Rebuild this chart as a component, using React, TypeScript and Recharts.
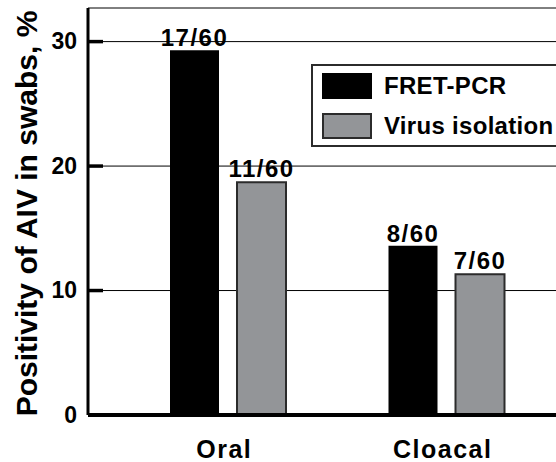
import React from "react";
import {
  BarChart,
  Bar,
  XAxis,
  YAxis,
  CartesianGrid,
  Legend,
  LabelList,
} from "recharts";

// ── Data ─────────────────────────────────────────────────────────────────────

const categories = ["Oral", "Cloacal"];
const fretPcr = [29.3, 13.6];
const virusIsolation = [18.7, 11.3];
const fretCounts = ["17/60", "8/60"];
const virusCounts = ["11/60", "7/60"];
const yTicks = [0, 10, 20, 30];

const data = categories.map((name, i) => ({
  name,
  fret: fretPcr[i],
  virus: virusIsolation[i],
  fretLabel: fretCounts[i],
  virusLabel: virusCounts[i],
}));

const FONT = '"Liberation Sans", Arial, Helvetica, sans-serif';
const GRAY = "#939598";
const EDGE = "#2b2b2b";

const series = [
  { name: "FRET-PCR", fill: "#000", stroke: "#000" },
  { name: "Virus isolation", fill: GRAY, stroke: EDGE },
];

const barLabelStyle = {
  fill: "#000",
  fontSize: 24,
  fontWeight: "bold",
  fontFamily: FONT,
  letterSpacing: 1.5,
};

// ── Pieces ───────────────────────────────────────────────────────────────────

function YTick(props: any) {
  const { x, y, payload } = props;
  const axisX = x + 8;
  return (
    <g>
      <line x1={axisX} x2={axisX + 15} y1={y} y2={y} stroke="#000" strokeWidth={3.5} />
      <text
        x={x - 3}
        y={y}
        dy="0.33em"
        textAnchor="end"
        fontFamily={FONT}
        fontWeight="bold"
        fontSize={23}
        fill="#000"
      >
        {payload.value}
      </text>
    </g>
  );
}

function XTick(props: any) {
  const { x, y, payload } = props;
  return (
    <text
      x={x - 4}
      y={y}
      dy="0.72em"
      textAnchor="middle"
      fontFamily={FONT}
      fontWeight="bold"
      fontSize={25}
      letterSpacing={1.5}
      fill="#000"
    >
      {payload.value}
    </text>
  );
}

function YTitle(props: any) {
  const { viewBox } = props;
  const cx = viewBox.x + 37;
  const cy = viewBox.y + viewBox.height / 2 + 2;
  return (
    <text
      x={cx}
      y={cy}
      transform={`rotate(-90 ${cx} ${cy})`}
      textAnchor="middle"
      fontFamily={FONT}
      fontWeight="bold"
      fontSize={30}
      fill="#000"
    >
      Positivity of AIV in swabs, %
    </text>
  );
}

function LegendBox() {
  return (
    <div
      style={{
        width: 260,
        height: 83,
        border: `2px solid ${EDGE}`,
        boxSizing: "border-box",
        background: "#fff",
        paddingTop: 7,
        paddingLeft: 9,
        fontFamily: FONT,
        fontWeight: "bold",
        fontSize: 24,
        letterSpacing: 0.3,
        color: "#000",
      }}
    >
      {series.map((s, i) => (
        <div
          key={s.name}
          style={{ display: "flex", alignItems: "center", height: 26, marginBottom: i === 0 ? 14 : 0 }}
        >
          <div
            style={{
              width: 50,
              height: 26,
              boxSizing: "border-box",
              background: s.fill,
              border: `2px solid ${s.stroke}`,
              marginRight: 12,
            }}
          />
          <span style={{ whiteSpace: "nowrap", lineHeight: "26px" }}>{s.name}</span>
        </div>
      ))}
    </div>
  );
}

// ── Chart ────────────────────────────────────────────────────────────────────

export default function App() {
  return (
    <div
      style={{
        position: "absolute",
        left: 0,
        top: 0,
        width: 556,
        height: 462,
        overflow: "hidden",
        background: "#fff",
      }}
    >
      <BarChart
        width={556}
        height={462}
        data={data}
        margin={{ top: 8, right: 0, left: 0, bottom: 0 }}
        barSize={49}
        barGap={18}
      >
        <CartesianGrid vertical={false} stroke="#000" strokeWidth={1} />
        <XAxis
          dataKey="name"
          height={47}
          padding={{ left: 31, right: 0 }}
          tickLine={false}
          tickSize={0}
          tickMargin={25}
          axisLine={{ stroke: "#000", strokeWidth: 4 }}
          tick={<XTick />}
        />
        <YAxis
          width={88}
          domain={[0, 32.7]}
          ticks={yTicks}
          allowDataOverflow
          tickLine={false}
          tickSize={0}
          tickMargin={8}
          axisLine={{ stroke: "#000", strokeWidth: 3 }}
          tick={<YTick />}
          label={{ content: <YTitle /> }}
        />
        <Legend
          layout="horizontal"
          verticalAlign="middle"
          align="center"
          content={() => <LegendBox />}
          wrapperStyle={{ position: "absolute", left: 311, top: 64, width: 260 }}
        />
        <Bar dataKey="fret" name="FRET-PCR" fill="#000" isAnimationActive={false}>
          <LabelList dataKey="fretLabel" position="top" offset={4} {...barLabelStyle} />
        </Bar>
        <Bar
          dataKey="virus"
          name="Virus isolation"
          fill={GRAY}
          stroke={EDGE}
          strokeWidth={2}
          isAnimationActive={false}
        >
          <LabelList dataKey="virusLabel" position="top" offset={5} {...barLabelStyle} />
        </Bar>
      </BarChart>
    </div>
  );
}
